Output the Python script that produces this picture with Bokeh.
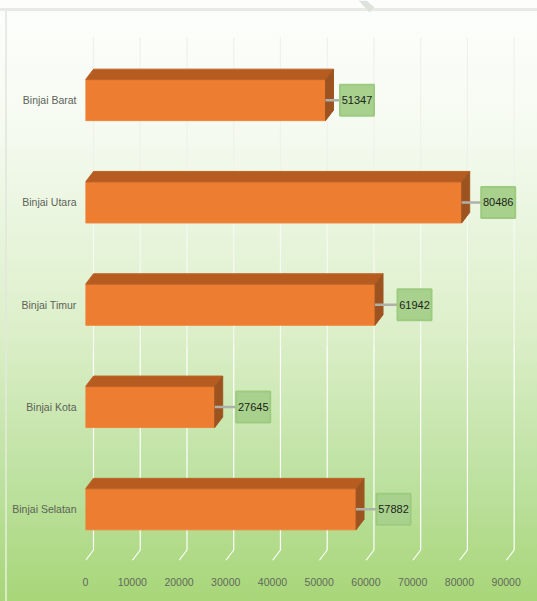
from bokeh.plotting import figure
from bokeh.embed import file_html
from bokeh.resources import INLINE
from bokeh.models import FixedTicker, PolyAnnotation, ColumnDataSource
from bokeh.core.properties import value

# ---- data (listed top to bottom as in the picture)
categories = ["Binjai Barat", "Binjai Utara", "Binjai Timur", "Binjai Kota", "Binjai Selatan"]
values = [51347, 80486, 61942, 27645, 57882]
x_ticks = [0, 10000, 20000, 30000, 40000, 50000, 60000, 70000, 80000, 90000]
label_gaps_px = [14, 19, 22, 21, 20]

# ---- layout
W, H = 537, 601
LEFT, BOTTOM = 85, 41
PX_PER_UNIT = 46.74 / 10000
SLOT_PX = 102.3
DEPTH_X = 8 / PX_PER_UNIT
DEPTH_Y = 10.5 / SLOT_PX
BAR_H = 41 / SLOT_PX
FONT = "Liberation Sans"

ys = [len(categories) - 1 - i for i in range(len(categories))]

p = figure(
    width=W, height=H, output_backend="svg", toolbar_location=None,
    x_range=(0, (W - LEFT) / PX_PER_UNIT),
    y_range=(-0.5, -0.5 + (H - BOTTOM) / SLOT_PX),
    min_border_left=LEFT, min_border_right=0, min_border_top=0, min_border_bottom=BOTTOM,
    border_fill_color=None, background_fill_color=None, outline_line_color=None,
)
# page gradient plus the chart-area frame lines that lie outside the plot frame
p.styles = {"background": ", ".join([
    "linear-gradient(#e8ebe5, #e8ebe5) 0px 8px / 100% 3px no-repeat",
    "linear-gradient(180deg, #e8ebe5 0%, #e2e9d9 50%, #d6ebc2 100%) 5px 8px / 2px 100% no-repeat",
    "linear-gradient(180deg, #fdfefc 0%, #f6fbf2 20%, #dcefc9 55%, #bde1a0 80%, #a8d678 100%)",
])}
p.grid.visible = False

# x axis
ax = p.xaxis[0]
ax.ticker = FixedTicker(ticks=x_ticks)
ax.axis_line_color = None
ax.major_tick_line_color = None
ax.minor_tick_line_color = None
ax.major_tick_out = 0
ax.major_label_standoff = 17
ax.major_label_text_font = FONT
ax.major_label_text_font_size = "10.5px"
ax.major_label_text_color = "#626a5c"

# y axis
ay = p.yaxis[0]
ay.ticker = FixedTicker(ticks=ys)
ay.major_label_overrides = {y: c for y, c in zip(ys, categories)}
ay.axis_line_color = None
ay.major_tick_line_color = None
ay.minor_tick_line_color = None
ay.major_tick_out = 0
ay.major_label_standoff = 9
ay.major_label_text_font = FONT
ay.major_label_text_font_size = "10.5px"
ay.major_label_text_color = "#5d6358"

# page fold at the top edge
p.add_layout(PolyAnnotation(xs=[358, 369, 374, 366], ys=[0, 12, 7, 0], xs_units="canvas", ys_units="canvas",
                            fill_color="#dfe1dc", fill_alpha=1, line_color=None, level="underlay"))

# gridlines on the back wall with the slanted floor piece
top_y = ys[0] + 0.5 + 0.115
floor_y = ys[-1] - 0.5
wall_y = floor_y + DEPTH_Y
for y0, y1, col in [(top_y, 3.0, "#eef2ea"), (3.0, 1.6, "#f6faf2"), (1.6, wall_y, "#ffffff")]:
    p.multi_line([[t + DEPTH_X, t + DEPTH_X] for t in x_ticks], [[y0, y1] for _ in x_ticks],
                 line_color=col, line_width=1.2)
p.multi_line([[t + DEPTH_X, t] for t in x_ticks], [[wall_y, floor_y] for _ in x_ticks],
             line_color="#ffffff", line_width=1.2)

# bars
p.hbar(y=ys, left=0, right=values, height=BAR_H, fill_color="#ED7D31", line_color="#F0853C", line_width=1)
top_xs = [[0, v, v + DEPTH_X, DEPTH_X] for v in values]
top_ys = [[y + BAR_H / 2, y + BAR_H / 2, y + BAR_H / 2 + DEPTH_Y, y + BAR_H / 2 + DEPTH_Y] for y in ys]
p.patches(top_xs, top_ys, fill_color="#B75C20", line_color="#BD6428", line_width=1)
side_xs = [[v, v + DEPTH_X, v + DEPTH_X, v] for v in values]
side_ys = [[y - BAR_H / 2, y - BAR_H / 2 + DEPTH_Y, y + BAR_H / 2 + DEPTH_Y, y + BAR_H / 2] for y in ys]
p.patches(side_xs, side_ys, fill_color="#9C5320", line_color="#A05722", line_width=1)

# value labels with leader lines
box_x = [v + (g + 17.5) / PX_PER_UNIT for v, g in zip(values, label_gaps_px)]
p.multi_line([[v, b] for v, b in zip(values, box_x)], [[y, y] for y in ys],
             line_color="#b0b0aa", line_width=2.5)
src = ColumnDataSource(dict(x=box_x, y=ys, t=[str(v) for v in values]))
p.rect("x", "y", source=src, width=34, height=31, width_units="screen", height_units="screen",
       fill_color="#A9D18E", line_color="#9CCB7F", line_width=2)
p.text("x", "y", text="t", source=src, text_align="center", text_baseline="middle",
       text_font=value(FONT), text_font_size="11px", text_color="#1c241a")

open("out.html", "w").write(file_html(p, INLINE))
